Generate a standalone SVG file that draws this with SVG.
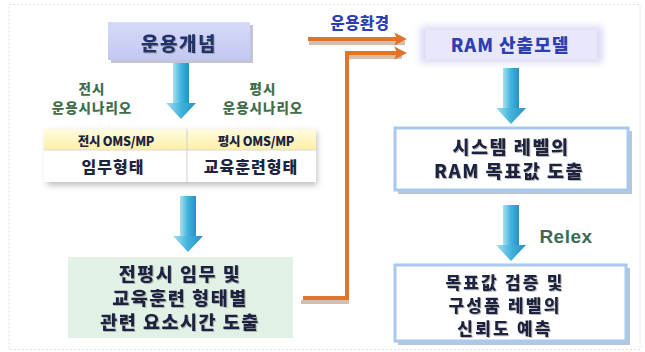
<svg xmlns="http://www.w3.org/2000/svg" width="645" height="352" viewBox="0 0 645 352">
<style>
text{font-family:"Noto Sans CJK KR","Noto Sans",sans-serif;font-weight:900;text-anchor:middle;dominant-baseline:central}
.navy{fill:#22306a;font-size:19px;letter-spacing:1.5px}
.blue{fill:#2e3fb4;font-size:18px;letter-spacing:1px}
.green{fill:#3f6e48;font-size:13.5px;letter-spacing:1px}
.dark{fill:#1c2440;font-size:18.5px;letter-spacing:1.5px}
.dark2{fill:#1c2440;font-size:17px;letter-spacing:2.2px}
.th{fill:#1c2440;font-size:12.5px;letter-spacing:-0.3px}
.td{fill:#1c2440;font-size:16px;letter-spacing:1px}
.obox{fill:#ffffff;stroke:#a8c8ee;stroke-width:3}
.orange{fill:none;stroke:#e2742a;stroke-width:4}
</style>
<defs>
<linearGradient id="cyan" x1="0" y1="0" x2="1" y2="0">
<stop offset="0" stop-color="#a9dff0"/><stop offset="0.5" stop-color="#3fb4dc"/><stop offset="1" stop-color="#2a8fc4"/>
</linearGradient>
<linearGradient id="yel" x1="0" y1="0" x2="0" y2="1">
<stop offset="0" stop-color="#fffbe0"/><stop offset="1" stop-color="#fdf0a8"/>
</linearGradient>
<linearGradient id="lav" x1="0" y1="0" x2="0" y2="1">
<stop offset="0" stop-color="#d6daf8"/><stop offset="1" stop-color="#c2c8f2"/>
</linearGradient>
<filter id="blur" x="-20%" y="-40%" width="140%" height="180%"><feGaussianBlur stdDeviation="3"/></filter>
<filter id="ts" x="-5%" y="-20%" width="115%" height="150%"><feDropShadow dx="1" dy="1" stdDeviation="0.6" flood-color="#888" flood-opacity="0.6"/></filter>
<marker id="ah" viewBox="0 0 10 10" refX="6" refY="5" markerWidth="3.2" markerHeight="3.6" orient="auto" markerUnits="strokeWidth">
<path d="M0,0 L10,5 L0,10 L2,5 Z" fill="#e2742a"/>
</marker>
<g id="downArrow">
<rect x="-8" y="0" width="16" height="42" fill="url(#cyan)"/>
<path d="M-15,40 L15,40 L0,56 Z" fill="url(#cyan)"/>
</g>
</defs>
<rect x="0" y="0" width="645" height="352" fill="#ffffff"/>
<rect x="9" y="4.5" width="631" height="345" fill="none" stroke="#e6dcdc" stroke-width="1" stroke-dasharray="2,2"/>

<g id="concept">
<rect x="111" y="25" width="142" height="38" fill="#8a8ab0" opacity="0.5"/>
<rect x="108" y="22" width="142" height="38" fill="url(#lav)"/>
<text class="navy" x="179" y="42" filter="url(#ts)">운용개념</text>
</g>

<g id="scenario-war"><text class="green" x="92" y="88">전시</text><text class="green" x="92" y="107">운용시나리오</text></g>
<g id="scenario-peace"><text class="green" x="263" y="88">평시</text><text class="green" x="263" y="107">운용시나리오</text></g>

<g id="table">
<rect x="47" y="132" width="270" height="53" fill="#777" opacity="0.5" filter="url(#blur)"/>
<rect x="44" y="129" width="272" height="21" fill="url(#yel)"/>
<rect x="44" y="150" width="272" height="32" fill="#ffffff"/>
<line x1="44" y1="150" x2="316" y2="150" stroke="#d8d8d8" stroke-width="1"/>
<line x1="187" y1="129" x2="187" y2="182" stroke="#cfcfcf" stroke-width="1"/>
<text class="th" x="116" y="140">전시 OMS/MP</text>
<text class="th" x="256" y="140">평시 OMS/MP</text>
<text class="td" x="113" y="166">임무형태</text>
<text class="td" x="251" y="166">교육훈련형태</text>
</g>

<g id="elements">
<rect x="68" y="257" width="225" height="81" fill="#e2f1e6"/>
<text class="dark" x="180" y="273" filter="url(#ts)">전평시 임무 및</text>
<text class="dark" x="180" y="297" filter="url(#ts)">교육훈련 형태별</text>
<text class="dark" x="180" y="321" filter="url(#ts)">관련 요소시간 도출</text>
</g>

<g id="ram-model">
<rect x="420" y="26" width="183" height="37" fill="#dcdcf6" filter="url(#blur)"/>
<rect x="426" y="30" width="171" height="29" fill="#e8e8fa"/>
<text class="blue" x="510" y="44">RAM 산출모델</text>
</g>

<g id="system-target">
<rect x="398" y="131" width="234" height="63" fill="#8aa0c0" opacity="0.6"/>
<rect class="obox" x="395" y="128" width="233" height="62"/>
<text class="dark" x="511" y="146" filter="url(#ts)">시스템 레벨의</text>
<text class="dark" x="509" y="170" filter="url(#ts)">RAM 목표값 도출</text>
</g>

<g id="verify">
<rect x="398" y="268" width="232" height="77" fill="#8aa0c0" opacity="0.6"/>
<rect class="obox" x="395" y="265" width="231" height="76"/>
<text class="dark2" x="505" y="281" filter="url(#ts)">목표값 검증 및</text>
<text class="dark2" x="505" y="304" filter="url(#ts)">구성품 레벨의</text>
<text class="dark2" x="505" y="327" filter="url(#ts)">신뢰도 예측</text>
</g>

<g id="connectors">
<use href="#downArrow" x="181" y="63"/>
<use href="#downArrow" x="188" y="196"/>
<use href="#downArrow" x="511" y="68"/>
<use href="#downArrow" x="511" y="205"/>
<path d="M308,41 L404,41" stroke="#9a5a30" stroke-width="4" fill="none" opacity="0.4" transform="translate(1,2)"/>
<path class="orange" d="M308,39 L402,39" marker-end="url(#ah)"/>
<path d="M303,300 L349,300 L349,55 L404,55" stroke="#9a5a30" stroke-width="4" fill="none" opacity="0.4" transform="translate(-2,2)"/>
<path class="orange" d="M303,298 L347,298 L347,53 L402,53" marker-end="url(#ah)"/>
<text class="blue" x="360" y="22" style="font-size:15.5px;letter-spacing:0.5px">운용환경</text>
<text x="566" y="236" style="font-size:19px;fill:#3d6b58;font-family:'Liberation Sans',sans-serif;font-weight:bold;letter-spacing:0.5px">Relex</text>
</g>
</svg>
